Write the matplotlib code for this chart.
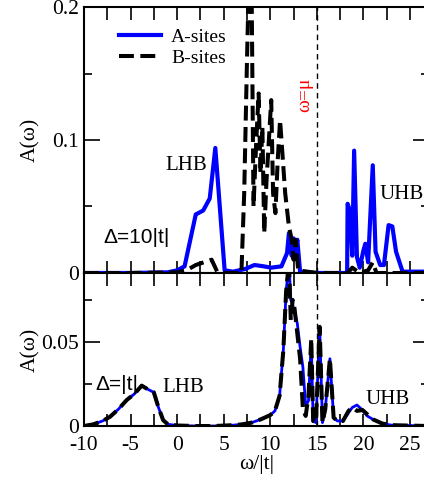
import numpy as np
import matplotlib
matplotlib.use("Agg")
import matplotlib.pyplot as plt
from matplotlib.ticker import MultipleLocator

plt.rcParams['font.family'] = 'serif'
plt.rcParams['font.serif'] = ['Liberation Serif']
plt.rcParams['axes.unicode_minus'] = False
plt.rcParams['font.size'] = 15.5

# spectral functions, Delta = 10|t|
w_top_a = [-10, -5, -1, 0, 0.8, 2.0, 2.8, 3.5, 4.1, 5.1, 6.0, 7.3, 8.3, 9.3, 10.1, 11.2,
           11.8, 12.0, 12.3, 12.5, 12.7, 12.9, 13.2, 15.0, 18.25, 18.3, 18.55, 18.8, 19.0,
           19.3, 19.6, 20.0, 20.2, 20.5, 21.0, 21.3, 21.8, 22.2, 22.7, 23.1, 23.5, 24.2, 27]
a_top = [0, 0, 0.0005, 0.002, 0.005, 0.044, 0.047, 0.056, 0.094, 0.002, 0.001, 0.003, 0.006,
         0.005, 0.004, 0.005, 0.015, 0.030, 0.013, 0.026, 0.015, 0.025, 0.001, 0, 0, 0.052,
         0.047, 0.013, 0.092, 0.012, 0.004, 0.017, 0.022, 0.008, 0.081, 0.016, 0.006, 0.006,
         0.036, 0.035, 0.016, 0.001, 0.001]

w_top_b = [-10, -5, 0, 1.0, 2.0, 3.7, 4.3, 5.0, 6.9, 7.2, 7.5, 7.8, 8.0, 8.2, 8.5, 8.75,
           8.95, 9.15, 9.35, 9.6, 9.85, 10.1, 10.3, 10.55, 10.8, 11.05, 11.3, 11.6, 12.0,
           12.3, 12.5, 12.7, 13.0, 15.0, 18.3, 18.8, 19.2, 19.6, 20.5, 21.0, 21.4, 22.0, 27]
b_top = [0, 0, 0.0005, 0.002, 0.006, 0.010, 0.001, 0.0, 0.0, 0.06, 0.16, 0.25, 0.21, 0.05,
         0.10, 0.135, 0.075, 0.11, 0.03, 0.07, 0.10, 0.13, 0.06, 0.045, 0.085, 0.115, 0.09,
         0.06, 0.035, 0.025, 0.01, 0.025, 0.002, 0, 0, 0.004, 0.002, 0.0, 0.002, 0.008, 0.0,
         0, 0]

# spectral functions, Delta = |t|
w_bot = [-10, -9, -8, -7.2, -6.3, -5.4, -4.6, -3.8, -3.2, -2.5, -2.0, -1.5, -1.0, 0, 2, 4,
         6, 7, 8, 9, 10, 10.5, 11.0, 11.4, 11.7, 12.0, 12.2, 12.4, 12.6, 12.9, 13.2, 13.5,
         13.8, 14.1, 14.4, 14.6, 14.9, 15.3, 15.6, 15.9, 16.4, 16.8, 17.2, 17.8, 18.4, 18.8,
         19.3, 19.9, 20.4, 21.0, 22.0, 23, 27]
a_bot = [0, 0.001, 0.003, 0.0055, 0.010, 0.0155, 0.019, 0.024, 0.022, 0.020, 0.011, 0.0035,
         0.001, 0.0003, 0, 0, 0.0005, 0.001, 0.002, 0.004, 0.0065, 0.009, 0.018, 0.045, 0.080,
         0.098, 0.075, 0.072, 0.068, 0.061, 0.047, 0.035, 0.012, 0.015, 0.050, 0.003, 0.002,
         0.059, 0.002, 0.010, 0.040, 0.005, 0.003, 0.003, 0.008, 0.011, 0.0125, 0.0095, 0.006,
         0.004, 0.0015, 0.0005, 0]
b_bot = [0, 0.001, 0.003, 0.0055, 0.010, 0.0155, 0.019, 0.024, 0.022, 0.020, 0.011, 0.0035,
         0.001, 0.0003, 0, 0, 0.0005, 0.001, 0.002, 0.004, 0.0065, 0.009, 0.018, 0.045, 0.080,
         0.098, 0.063, 0.075, 0.070, 0.055, 0.040, 0.010, 0.006, 0.018, 0.052, 0.003, 0.002,
         0.059, 0.002, 0.010, 0.040, 0.005, 0.003, 0.003, 0.009, 0.011, 0.009, 0.0095, 0.007,
         0.004, 0.0015, 0.0005, 0]

mu = 15.0

fig = plt.figure(figsize=(4.24, 4.83), dpi=100)
ax1 = fig.add_axes([0.198, 0.4348, 0.813, 0.5507])
ax2 = fig.add_axes([0.198, 0.118, 0.813, 0.3168])

dash = (3.7, 1.6)
ax1.plot(w_top_a, a_top, color='blue', lw=3.0, label='A-sites')
ax1.plot(w_top_b, b_top, color='black', lw=2.9, dashes=dash, label='B-sites')
ax2.plot(w_bot, a_bot, color='blue', lw=2.0)
ax2.plot(w_bot, b_bot, color='black', lw=2.9, dashes=dash)

for ax in (ax1, ax2):
    ax.axvline(mu, color='black', lw=1.0, dashes=(4, 3))
    ax.set_xlim(-10, 27)
    ax.xaxis.set_major_locator(MultipleLocator(5))
    ax.xaxis.set_minor_locator(MultipleLocator(2.5))
    ax.tick_params(which='both', direction='in', top=True, right=True, width=1.2)
    ax.tick_params(axis='x', which='both', length=9, pad=7.5)
    ax.tick_params(axis='y', which='major', length=11.5)
    ax.tick_params(axis='y', which='minor', length=5.8)
    for s in ax.spines.values():
        s.set_linewidth(1.5)
    ax.set_ylabel('A(ω)', fontsize=15.5)
    ax.yaxis.set_label_coords(-0.128, 0.5)

ax1.set_ylim(0, 0.2)
ax1.set_yticks([0, 0.1, 0.2], ['0', '0.1', '0.2'])
ax1.yaxis.set_minor_locator(MultipleLocator(0.05))
ax1.tick_params(axis='x', labelbottom=False)

ax2.set_ylim(0, 0.091)
ax2.set_yticks([0, 0.05], ['0', '0.05'])
ax2.yaxis.set_minor_locator(MultipleLocator(0.025))
ax2.set_xticks([-10, -5, 0, 5, 10, 15, 20, 25], ['-10', '-5', '0', '5', '10', '15', '20', '25'])
ax2.set_xlabel('ω/|t|', fontsize=15.5, labelpad=0)

ax1.legend(loc='upper left', bbox_to_anchor=(0.05, 0.985), frameon=False, fontsize=14,
           handlelength=2.2, handletextpad=0.5, labelspacing=0.15)

ax1.text(0.98, 0.081, 'LHB', ha='center', va='center', fontsize=15)
ax1.text(24.1, 0.059, 'UHB', ha='center', va='center', fontsize=15)
ax1.text(-4.4, 0.027, 'Δ=10|t|', ha='center', va='center', fontsize=15, family='Liberation Sans')
ax1.text(13.65, 0.134, 'ω=μ', ha='center', va='center', fontsize=14, color='red', rotation=90)

ax2.text(-6.45, 0.0244, 'Δ=|t|', ha='center', va='center', fontsize=15, family='Liberation Sans')
ax2.text(0.65, 0.023, 'LHB', ha='center', va='center', fontsize=15)
ax2.text(22.6, 0.0155, 'UHB', ha='center', va='center', fontsize=15)

fig.savefig('out.png', dpi=100)
